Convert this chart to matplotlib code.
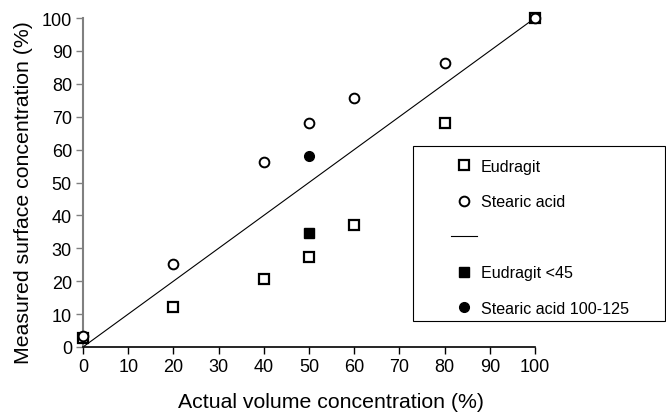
import matplotlib
matplotlib.use("Agg")
import matplotlib.pyplot as plt
from matplotlib.lines import Line2D
from matplotlib.patches import Rectangle

plt.rcParams['font.family'] = ['Liberation Sans', 'DejaVu Sans']

x_vals = [0, 20, 40, 50, 60, 80, 100]
eudragit = [2.7, 12.2, 20.7, 27.3, 37.1, 68.0, 100.0]
stearic = [3.4, 25.2, 56.2, 68.1, 75.8, 86.3, 100.0]
line_x = [0, 100]
line_y = [0, 100]
eud45_x = [50]
eud45_y = [34.8]
st100_x = [50]
st100_y = [58.0]
xticks = list(range(0, 101, 10))
yticks = list(range(0, 101, 10))

W, H = 666, 414
fig = plt.figure(figsize=(W/100, H/100), dpi=100)
ax = fig.add_axes([83/W, 1-348/H, (535-83)/W, (348-19)/H])

ax.plot(line_x, line_y, color='black', lw=0.8, clip_on=False)
ax.plot(x_vals, eudragit, linestyle='none', marker='s', ms=7, mfc='white', mec='black', mew=1.6, clip_on=False, zorder=3)
ax.plot(x_vals, stearic, linestyle='none', marker='o', ms=7, mfc='white', mec='black', mew=1.4, clip_on=False, zorder=3)
ax.plot(eud45_x, eud45_y, linestyle='none', marker='s', ms=7, mfc='black', mec='black', clip_on=False, zorder=3)
ax.plot(st100_x, st100_y, linestyle='none', marker='o', ms=7, mfc='black', mec='black', clip_on=False, zorder=3)

ax.set_xlim(0, 100)
ax.set_ylim(0, 100)
ax.set_xticks(xticks)
ax.set_yticks(yticks)
ax.tick_params(labelsize=13, length=5, width=1, direction='out', pad=3)
for s in ['top', 'right']:
    ax.spines[s].set_visible(False)
ax.spines['left'].set_color('#808080')
ax.spines['left'].set_linewidth(1.5)
ax.spines['bottom'].set_linewidth(1.2)
ax.tick_params(axis='y', color='#808080')

ax.set_xlabel('Actual volume concentration (%)', fontsize=15.3, labelpad=12)
ax.set_ylabel('Measured surface concentration (%)', fontsize=15.3, labelpad=6)
ax.xaxis.label.set_x((331 - 83) / 452)
ax.yaxis.label.set_y((348 - 192.5) / 329)

# legend frame
fig.patches.append(Rectangle((413/W, 1-322/H), (665-413)/W, (322-147)/H,
                             transform=fig.transFigure, fill=False,
                             edgecolor='black', lw=0.8, zorder=5))

handles = [
    Line2D([], [], linestyle='none', marker='s', ms=7, mfc='white', mec='black', mew=1.6),
    Line2D([], [], linestyle='none', marker='o', ms=7, mfc='white', mec='black', mew=1.4),
    Line2D([], [], color='black', lw=0.8),
    Line2D([], [], linestyle='none', marker='s', ms=7, mfc='black', mec='black'),
    Line2D([], [], linestyle='none', marker='o', ms=7, mfc='black', mec='black'),
]
labels = ['Eudragit', 'Stearic acid', '', 'Eudragit <45', 'Stearic acid 100-125']
leg = fig.legend(handles, labels, loc='upper left', bbox_to_anchor=(451/W, 1-160/H),
                 frameon=False, fontsize=11.6,
                 labelspacing=1.27, handlelength=1.6, handletextpad=0.25,
                 borderpad=0, borderaxespad=0)

fig.savefig('out.png', dpi=100)
